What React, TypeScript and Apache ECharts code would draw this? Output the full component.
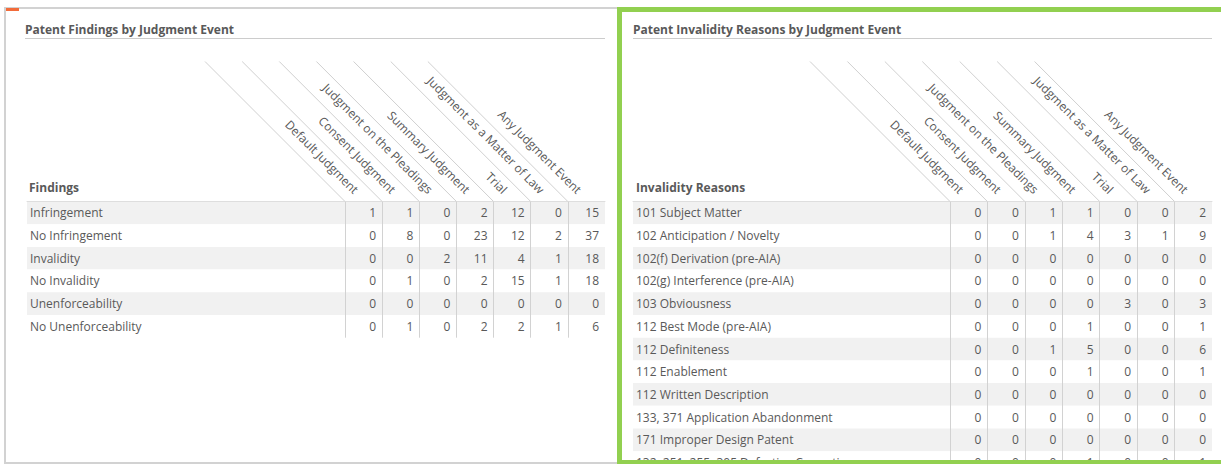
import React, { useEffect, useRef } from "react";
import * as echarts from "echarts";

const judgmentEvents = [
  "Default Judgment",
  "Consent Judgment",
  "Judgment on the Pleadings",
  "Summary Judgment",
  "Trial",
  "Judgment as a Matter of Law",
  "Any Judgment Event",
];

const findings = [
  "Infringement",
  "No Infringement",
  "Invalidity",
  "No Invalidity",
  "Unenforceability",
  "No Unenforceability",
];

const findingsCounts = [
  [1, 1, 0, 2, 12, 0, 15],
  [0, 8, 0, 23, 12, 2, 37],
  [0, 0, 2, 11, 4, 1, 18],
  [0, 1, 0, 2, 15, 1, 18],
  [0, 0, 0, 0, 0, 0, 0],
  [0, 1, 0, 2, 2, 1, 6],
];

const invalidityReasons = [
  "101 Subject Matter",
  "102 Anticipation / Novelty",
  "102(f) Derivation (pre-AIA)",
  "102(g) Interference (pre-AIA)",
  "103 Obviousness",
  "112 Best Mode (pre-AIA)",
  "112 Definiteness",
  "112 Enablement",
  "112 Written Description",
  "133, 371 Application Abandonment",
  "171 Improper Design Patent",
  "132, 251, 255, 305 Defective Correction",
];

const invalidityCounts = [
  [0, 0, 1, 1, 0, 0, 2],
  [0, 0, 1, 4, 3, 1, 9],
  [0, 0, 0, 0, 0, 0, 0],
  [0, 0, 0, 0, 0, 0, 0],
  [0, 0, 0, 0, 3, 0, 3],
  [0, 0, 0, 1, 0, 0, 1],
  [0, 0, 1, 5, 0, 0, 6],
  [0, 0, 0, 1, 0, 0, 1],
  [0, 0, 0, 0, 0, 0, 0],
  [0, 0, 0, 0, 0, 0, 0],
  [0, 0, 0, 0, 0, 0, 0],
  [0, 0, 0, 1, 0, 0, 1],
];

const FONT = "'Open Sans', sans-serif";
const TEXT = "#595959";
const ROW_H = 22.7;
const TOP = 201.5;

function cells(counts: number[][]) {
  const out: number[][] = [];
  counts.forEach((row, r) => row.forEach((v, c) => out.push([c, r, v])));
  return out;
}

export default function App() {
  const ref = useRef<HTMLDivElement>(null);
  useEffect(() => {
    if (!ref.current) return;
    const chart = echarts.init(ref.current, undefined, { renderer: "svg" });

    const tables = [
      { labelLeft: 27, valueLeft: 345, right: 605, rows: findings, counts: findingsCounts },
      { labelLeft: 633, valueLeft: 950, right: 1212, rows: invalidityReasons, counts: invalidityCounts },
    ];

    const grid: any[] = [];
    const xAxis: any[] = [];
    const yAxis: any[] = [];
    const series: any[] = [];
    const split = { show: true, areaStyle: { color: ["#f1f1f1", "#ffffff"] } };
    const axisLineStyle = { show: true, lineStyle: { color: "#dedede", width: 1 } };

    tables.forEach((t, ti) => {
      const h = t.rows.length * ROW_H;
      const gl = ti * 2;
      const gv = ti * 2 + 1;
      grid.push({ left: t.labelLeft, top: TOP, width: t.valueLeft - t.labelLeft, height: h, outerBoundsMode: "none", containLabel: false });
      grid.push({ left: t.valueLeft, top: TOP, width: t.right - t.valueLeft, height: h, outerBoundsMode: "none", containLabel: false });

      xAxis.push({
        gridIndex: gl,
        type: "category",
        data: [""],
        position: "top",
        axisLine: axisLineStyle,
        axisTick: { show: false },
        axisLabel: { show: false },
      });
      xAxis.push({
        gridIndex: gv,
        type: "category",
        data: judgmentEvents,
        position: "top",
        axisLine: axisLineStyle,
        axisTick: { show: false },
        axisLabel: {
          interval: 0,
          rotate: 45,
          margin: 3,
          padding: [0, 10, 0, 0],
          color: TEXT,
          fontSize: 12,
          fontFamily: FONT,
          hideOverlap: false,
        },
        splitLine: { show: true, showMaxLine: false, lineStyle: { color: "#d2d2d2", width: 1 } },
      });

      yAxis.push({
        gridIndex: gl,
        type: "category",
        data: t.rows,
        inverse: true,
        axisLine: { show: false },
        axisTick: { show: false },
        axisLabel: { inside: true, margin: 3, color: TEXT, fontSize: 12, fontFamily: FONT },
        splitArea: split,
      });
      yAxis.push({
        gridIndex: gv,
        type: "category",
        data: t.rows,
        inverse: true,
        axisLine: { show: false },
        axisTick: { show: false },
        axisLabel: { show: false },
        splitArea: split,
      });

      series.push({
        type: "custom",
        xAxisIndex: gv,
        yAxisIndex: gv,
        silent: true,
        data: cells(t.counts),
        renderItem: (params: any, api: any) => {
          const p = api.coord([api.value(0), api.value(1)]);
          const s = api.size([1, 1]);
          return {
            type: "text",
            x: p[0] + s[0] / 2 - 6,
            y: p[1],
            style: {
              text: String(api.value(2)),
              align: "right",
              verticalAlign: "middle",
              fill: TEXT,
              fontSize: 12,
              fontFamily: FONT,
            },
          };
        },
      });

      series.push({
        type: "custom",
        xAxisIndex: gv,
        yAxisIndex: gv,
        silent: true,
        data: judgmentEvents.map((_, i) => [i, 0]),
        renderItem: (params: any, api: any) => {
          const p = api.coord([api.value(0), 0]);
          const s = api.size([1, 1]);
          const x0 = p[0] - s[0] / 2;
          const y0 = params.coordSys.y;
          return {
            type: "line",
            shape: { x1: x0, y1: y0, x2: x0 - 140, y2: y0 - 140 },
            style: { stroke: "#d0d0d0", lineWidth: 1 },
          };
        },
      });
    });

    const titleStyle = { fontSize: 12, fontWeight: "bold", color: TEXT, fontFamily: FONT };

    chart.setOption({
      animation: false,
      backgroundColor: "#ffffff",
      title: [
        { text: "Patent Findings by Judgment Event", left: 25, top: 23, padding: 0, textStyle: titleStyle },
        { text: "Findings", left: 29, top: 181, padding: 0, textStyle: titleStyle },
        { text: "Patent Invalidity Reasons by Judgment Event", left: 633, top: 23, padding: 0, textStyle: titleStyle },
        { text: "Invalidity Reasons", left: 636, top: 181, padding: 0, textStyle: titleStyle },
      ],
      graphic: [
        { type: "rect", shape: { x: 5, y: 8, width: 614, height: 455 }, style: { fill: "none", stroke: "#d2d2d2", lineWidth: 2 } },
        { type: "rect", shape: { x: 6, y: 8, width: 13, height: 3 }, style: { fill: "#f26b3a" } },
        { type: "line", shape: { x1: 25, y1: 38.5, x2: 605, y2: 38.5 }, style: { stroke: "#cccccc", lineWidth: 1 } },
        { type: "line", shape: { x1: 633, y1: 38.5, x2: 1212, y2: 38.5 }, style: { stroke: "#cccccc", lineWidth: 1 } },
        { type: "rect", z: 100, shape: { x: 619.5, y: 9.5, width: 700, height: 453 }, style: { fill: "none", stroke: "#92d050", lineWidth: 5 } },
      ],
      grid,
      xAxis,
      yAxis,
      series,
    });
    return () => chart.dispose();
  }, []);
  return (
    <div
      ref={ref}
      style={{ position: "fixed", left: 0, top: 0, width: 1221, height: 464 }}
    />
  );
}
